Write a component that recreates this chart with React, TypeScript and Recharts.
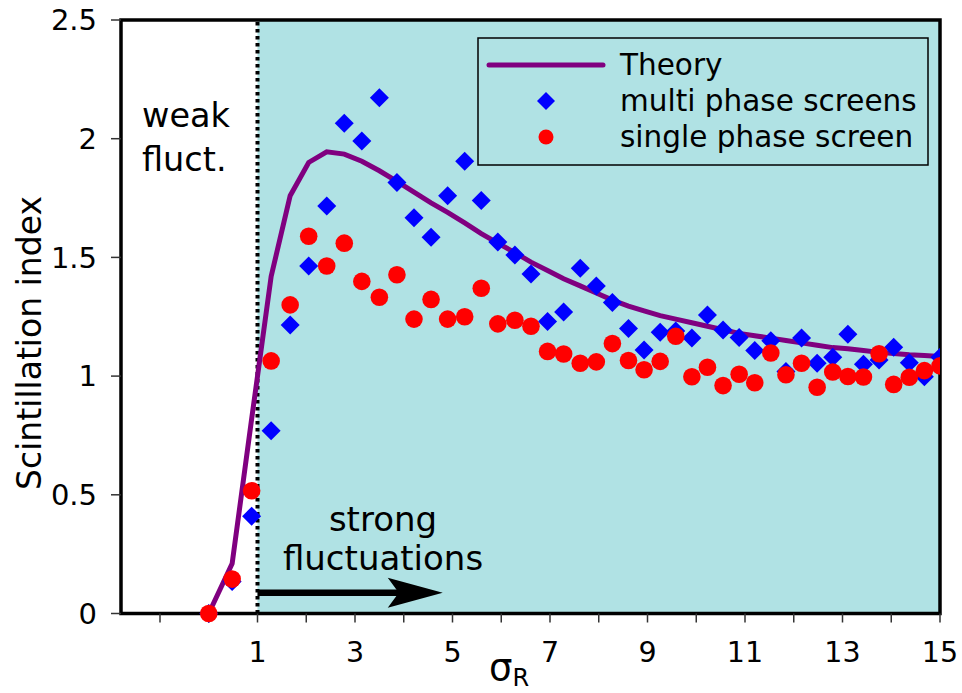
import React from 'react';
import { ComposedChart, Line, Scatter, XAxis, YAxis, ReferenceArea, ReferenceLine, Legend } from 'recharts';

// sigma_R sample positions shared by all series
const sigmaR = [0, 0.48, 0.88, 1.28, 1.67, 2.05, 2.42, 2.78, 3.14, 3.5, 3.86, 4.21, 4.56, 4.9, 5.25, 5.59, 5.93, 6.28, 6.61, 6.95, 7.28, 7.62, 7.95, 8.28, 8.61, 8.93, 9.26, 9.58, 9.91, 10.23, 10.55, 10.88, 11.2, 11.53, 11.84, 12.16, 12.48, 12.8, 13.11, 13.43, 13.75, 14.05, 14.37, 14.68, 15.0];
const theory = [0, 0.21, 0.82, 1.42, 1.76, 1.9, 1.945, 1.935, 1.905, 1.865, 1.82, 1.775, 1.73, 1.69, 1.645, 1.6, 1.56, 1.52, 1.48, 1.445, 1.41, 1.38, 1.35, 1.32, 1.295, 1.275, 1.255, 1.24, 1.225, 1.21, 1.195, 1.18, 1.17, 1.16, 1.15, 1.14, 1.13, 1.12, 1.115, 1.108, 1.1, 1.095, 1.09, 1.087, 1.083];
const multiScreens = [0, 0.135, 0.41, 0.77, 1.215, 1.464, 1.717, 2.065, 1.99, 2.173, 1.816, 1.667, 1.585, 1.76, 1.905, 1.74, 1.565, 1.51, 1.43, 1.23, 1.27, 1.454, 1.38, 1.31, 1.2, 1.11, 1.185, 1.19, 1.16, 1.257, 1.194, 1.163, 1.108, 1.149, 1.019, 1.16, 1.054, 1.079, 1.176, 1.05, 1.068, 1.121, 1.056, 0.997, 1.079];
const singleScreen = [0, 0.145, 0.517, 1.064, 1.3, 1.589, 1.464, 1.56, 1.399, 1.332, 1.427, 1.24, 1.323, 1.24, 1.25, 1.37, 1.22, 1.235, 1.21, 1.104, 1.093, 1.054, 1.06, 1.137, 1.066, 1.027, 1.062, 1.168, 0.997, 1.037, 0.96, 1.008, 0.972, 1.097, 1.006, 1.054, 0.953, 1.017, 0.998, 0.996, 1.094, 0.965, 0.995, 1.023, 1.043];

const xTicks = [-1, 0, 1, 2, 3, 4, 5, 6, 7, 8, 9, 10, 11, 12, 13, 14, 15];
const yTicks = [0, 0.5, 1, 1.5, 2, 2.5];

const data = sigmaR.map((x, i) => ({ x, theory: theory[i], multi: multiScreens[i], single: singleScreen[i] }));

const FONT = '"DejaVu Sans", sans-serif';
const CYAN = '#b0e2e4';
const PURPLE = '#800080';

const Diamond = (props: any) => {
  const { cx, cy } = props;
  if (cx == null || cy == null) return null;
  const r = 9.5;
  return <polygon points={`${cx},${cy - r} ${cx + r},${cy} ${cx},${cy + r} ${cx - r},${cy}`} fill="#0000ff" />;
};

const Dot = (props: any) => {
  const { cx, cy } = props;
  if (cx == null || cy == null) return null;
  return <circle cx={cx} cy={cy} r={8.8} fill="#ff0000" />;
};

// fat arrow drawn between the segment end points
const Arrow = (props: any) => {
  const { x1, y1, x2 } = props;
  if (x1 == null) return null;
  return (
    <g>
      <line x1={x1} y1={y1} x2={x2 - 40} y2={y1} stroke="#000" strokeWidth={6.5} />
      <polygon points={`${x2},${y1} ${x2 - 55},${y1 - 15} ${x2 - 44},${y1} ${x2 - 55},${y1 + 15}`} fill="#000" />
    </g>
  );
};

const LegendBox = () => (
  <svg width={452} height={130} style={{ display: 'block' }}>
    <rect x={1} y={1} width={450} height={127} fill={CYAN} stroke="#000" strokeWidth={1.5} />
    <line x1={12} x2={126} y1={28} y2={28} stroke={PURPLE} strokeWidth={5} strokeLinecap="round" />
    <polygon points="69,55 78,64 69,73 60,64" fill="#0000ff" />
    <circle cx={69} cy={100} r={7.5} fill="#ff0000" />
    <g fontFamily={FONT} fontSize={29.5} fill="#000">
      <text x={143} y={38}>Theory</text>
      <text x={143} y={74}>multi phase screens</text>
      <text x={143} y={110}>single phase screen</text>
    </g>
  </svg>
);

export default function App() {
  return (
    <div style={{ position: 'absolute', left: 0, top: 0, width: 962, height: 693 }}>
      <ComposedChart width={962} height={693} data={data} margin={{ top: 20, right: 22, bottom: 0, left: 0 }}>
        <ReferenceArea x1={-1.8} x2={1} y1={0} y2={2.5} fill="#ffffff" fillOpacity={1} stroke="none" />
        <ReferenceArea x1={1} x2={15} y1={0} y2={2.5} fill={CYAN} fillOpacity={1} stroke="none" />
        <XAxis
          type="number"
          dataKey="x"
          domain={[-1.8, 15]}
          ticks={xTicks}
          allowDataOverflow
          height={79.5}
          axisLine={false}
          tickSize={9}
          tickMargin={19}
          tickLine={{ stroke: '#333', strokeWidth: 1.5 }}
          tick={{ fontSize: 28.5, fill: '#000', fontFamily: FONT }}
          tickFormatter={(v: number) => (v >= 1 && v % 2 === 1 ? String(v) : '')}
          interval={0}
        />
        <YAxis
          type="number"
          domain={[0, 2.5]}
          ticks={yTicks}
          width={121}
          axisLine={false}
          tickSize={10}
          tickMargin={14}
          tickLine={{ stroke: '#333', strokeWidth: 1.5 }}
          tick={{ fontSize: 29, fill: '#000', fontFamily: FONT }}
          interval={0}
        />
        <ReferenceLine x={1} stroke="#000" strokeWidth={4} strokeDasharray="3.5 3.5" />
        <ReferenceLine
          segment={[{ x: 1, y: 0.087 }, { x: 4.8, y: 0.087 }]}
          shape={<Arrow />}
        />
        <Line dataKey="theory" stroke={PURPLE} strokeWidth={5} dot={false} isAnimationActive={false} legendType="line" />
        <Scatter dataKey="multi" shape={<Diamond />} isAnimationActive={false} />
        <Scatter dataKey="single" shape={<Dot />} isAnimationActive={false} />
        <ReferenceArea x1={-1.8} x2={15} y1={0} y2={2.5} fill="none" stroke="#000" strokeWidth={3.5} />
        <Legend
          layout="vertical"
          align="center"
          verticalAlign="middle"
          content={() => <LegendBox />}
          wrapperStyle={{ left: 477, top: 37, width: 452, height: 130 }}
        />
      </ComposedChart>
      <svg width={962} height={693} style={{ position: 'absolute', left: 0, top: 0, pointerEvents: 'none' }}>
        <g fontFamily={FONT} fill="#000">
          <text x={142} y={127} fontSize={33.5}>weak</text>
          <text x={142} y={171} fontSize={33.5}>fluct.</text>
          <text x={383} y={531} fontSize={34} textAnchor="middle">strong</text>
          <text x={383} y={570} fontSize={34} textAnchor="middle">fluctuations</text>
          <text transform="translate(41,343) rotate(-90)" fontSize={33} textAnchor="middle">Scintillation index</text>
          <text x={489} y={680} fontSize={37}>σ<tspan fontSize={24} dy={6}>R</tspan></text>
        </g>
      </svg>
    </div>
  );
}
